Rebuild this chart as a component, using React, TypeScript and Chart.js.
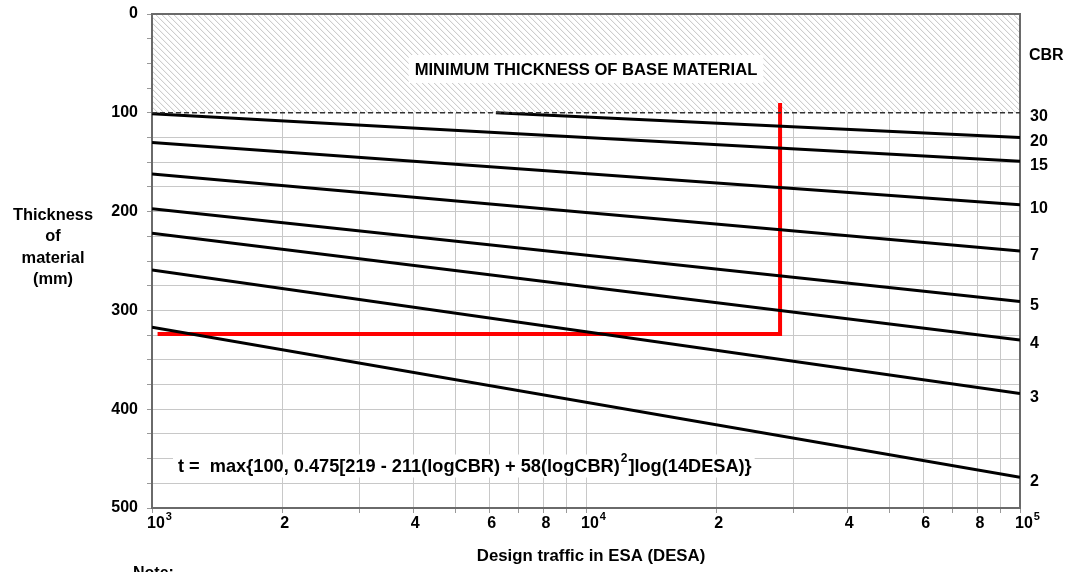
import React, { useEffect, useRef } from 'react';
import { Chart, registerables } from 'chart.js';

Chart.register(...registerables);

// ---- Data ----
const LINE_X = [1000, 100000]; // DESA at both ends of each design line
const CBR_2 = [317, 469];
const CBR_3 = [259, 384];
const CBR_4 = [222, 330];
const CBR_5 = [197, 291];
const CBR_7 = [162, 240];
const CBR_10 = [130, 193];
const CBR_15 = [101, 149];
const CBR_20_X = [6200, 100000];
const CBR_20 = [100, 125];
const CBR_30 = [100, 100];
const CBR_NAMES = ['30', '20', '15', '10', '7', '5', '4', '3', '2'];

const EXAMPLE_X = [1030, 28000, 28000];
const EXAMPLE_T = [324, 324, 90];

const MIN_THICKNESS = 100;
const Y_MIN = 0;
const Y_MAX = 500;
const Y_GRID_STEP = 25;
const Y_LABEL_STEP = 100;

const X_MIN = 1000;
const X_MAX = 100000;
const X_GRID = [1000, 2000, 3000, 4000, 5000, 6000, 7000, 8000, 9000, 10000, 20000, 30000, 40000, 50000, 60000, 70000, 80000, 90000, 100000];
const X_TICKS = [1000, 2000, 4000, 6000, 8000, 10000, 20000, 40000, 60000, 80000, 100000];
const X_TICK_TEXT = ['10^3', '2', '4', '6', '8', '10^4', '2', '4', '6', '8', '10^5'];

const TITLE_TEXT = 'MINIMUM THICKNESS OF BASE MATERIAL';
const FORMULA_A = 't =  max{100, 0.475[219 - 211(logCBR) + 58(logCBR)';
const FORMULA_SUP = '2';
const FORMULA_B = ']log(14DESA)}';
const Y_TITLE = ['Thickness', 'of', 'material', '(mm)'];
const X_TITLE = 'Design traffic in ESA (DESA)';
const NOTE_TEXT = 'Note:';
const RIGHT_TITLE = 'CBR';

const FONT_FAMILY = '"Liberation Sans", Arial, Helvetica, sans-serif';
const boldFont = (px: number) => `bold ${px}px ${FONT_FAMILY}`;

const pts = (xs: number[], ys: number[]) => xs.map((x, i) => ({ x, y: ys[i] }));

const annotationPlugin = {
  id: 'chartDecor',
  beforeDatasetsDraw(chart: any) {
    const { ctx, chartArea, scales } = chart;
    const { left, right, top, bottom } = chartArea;
    const y = scales.y;
    const yTop = y.getPixelForValue(Y_MIN);
    const yMin = y.getPixelForValue(MIN_THICKNESS);
    const h = yMin - yTop;
    ctx.save();
    // hatched "minimum thickness" zone
    ctx.fillStyle = '#ffffff';
    ctx.fillRect(left, yTop, right - left, h);
    ctx.beginPath();
    ctx.rect(left, yTop, right - left, h);
    ctx.clip();
    ctx.strokeStyle = '#c2c2c2';
    ctx.lineWidth = 1;
    ctx.beginPath();
    for (let s = left - h; s < right + 6; s += 6) {
      ctx.moveTo(s, yTop);
      ctx.lineTo(s + h, yMin);
    }
    ctx.stroke();
    ctx.restore();

    // title box
    ctx.save();
    const cx = (left + right) / 2;
    ctx.font = boldFont(16.6);
    const tw = ctx.measureText(TITLE_TEXT).width;
    ctx.fillStyle = '#ffffff';
    ctx.fillRect(cx - tw / 2 - 6, yTop + 41, tw + 12, 28);
    ctx.fillStyle = '#000';
    ctx.textAlign = 'center';
    ctx.textBaseline = 'middle';
    ctx.fillText(TITLE_TEXT, cx, yTop + 56);
    ctx.restore();

    // plot border
    ctx.save();
    ctx.strokeStyle = '#6a6a6a';
    ctx.lineWidth = 2;
    ctx.strokeRect(left, top, right - left, bottom - top);
    ctx.restore();
  },
  afterDatasetsDraw(chart: any) {
    const { ctx, chartArea, scales } = chart;
    const { left, right, bottom } = chartArea;
    const x = scales.x;
    const y = scales.y;
    ctx.save();
    ctx.fillStyle = '#000';

    // formula with white background
    const fs = 18.2;
    ctx.font = boldFont(fs);
    const fx = left + 26;
    const fy = y.getPixelForValue(458);
    const wA = ctx.measureText(FORMULA_A).width;
    const wB = ctx.measureText(FORMULA_B).width;
    ctx.font = boldFont(12);
    const wS = ctx.measureText(FORMULA_SUP).width;
    ctx.fillStyle = '#ffffff';
    ctx.fillRect(fx - 5, fy - 12, wA + wS + wB + 10, 23);
    ctx.fillStyle = '#000';
    ctx.textBaseline = 'middle';
    ctx.textAlign = 'left';
    ctx.font = boldFont(fs);
    ctx.fillText(FORMULA_A, fx, fy);
    ctx.font = boldFont(12);
    ctx.fillText(FORMULA_SUP, fx + wA + 1, fy - 8);
    ctx.font = boldFont(fs);
    ctx.fillText(FORMULA_B, fx + wA + wS + 2, fy);

    // x tick labels
    const ly = bottom + 16;
    X_TICKS.forEach((v, i) => {
      const px = x.getPixelForValue(v);
      const t = X_TICK_TEXT[i];
      if (t.includes('^')) {
        const [base, exp] = t.split('^');
        ctx.font = boldFont(16);
        ctx.textAlign = 'left';
        const bw = ctx.measureText(base).width;
        ctx.fillText(base, px - 5, ly);
        ctx.font = boldFont(11);
        ctx.fillText(exp, px - 5 + bw + 1, ly - 7);
      } else {
        ctx.font = boldFont(16);
        ctx.textAlign = 'center';
        ctx.fillText(t, px + 2, ly);
      }
    });

    // CBR labels at right end of each line
    ctx.font = boldFont(16);
    ctx.textAlign = 'left';
    chart.data.datasets.forEach((ds: any) => {
      if (!ds.cbr) return;
      const last = ds.data[ds.data.length - 1];
      ctx.fillText(ds.cbr, right + 10, y.getPixelForValue(last.y) + 4);
    });
    ctx.fillText(RIGHT_TITLE, right + 9, y.getPixelForValue(Y_MIN) + 42);

    // y title
    ctx.textAlign = 'center';
    ctx.font = boldFont(16.4);
    Y_TITLE.forEach((line, i) => {
      ctx.fillText(line, 53, 215 + i * 21.5);
    });

    // x title
    ctx.font = boldFont(16.8);
    ctx.fillText(X_TITLE, (left + right) / 2 + 5, bottom + 48);

    // note (partly cut off by the bottom edge)
    ctx.font = boldFont(16);
    ctx.textAlign = 'left';
    ctx.textBaseline = 'top';
    ctx.fillText(NOTE_TEXT, 133, 566);
    ctx.restore();
  },
};

export default function App() {
  const ref = useRef<HTMLCanvasElement | null>(null);
  useEffect(() => {
    if (!ref.current) return;
    const black = (label: string, xs: number[], ys: number[]) => ({
      label: 'CBR ' + label,
      cbr: label,
      data: pts(xs, ys),
      borderColor: '#000000',
      borderWidth: 3,
      pointRadius: 0,
      tension: 0,
      fill: false,
    });
    const chart = new Chart(ref.current, {
      type: 'line',
      data: {
        datasets: [
          {
            label: 'CBR 30',
            cbr: CBR_NAMES[0],
            data: pts(LINE_X, CBR_30),
            borderColor: '#333333',
            borderWidth: 1.6,
            borderDash: [5, 3],
            pointRadius: 0,
            fill: false,
          } as any,
          black(CBR_NAMES[1], CBR_20_X, CBR_20),
          black(CBR_NAMES[2], LINE_X, CBR_15),
          black(CBR_NAMES[3], LINE_X, CBR_10),
          black(CBR_NAMES[4], LINE_X, CBR_7),
          black(CBR_NAMES[5], LINE_X, CBR_5),
          black(CBR_NAMES[6], LINE_X, CBR_4),
          black(CBR_NAMES[7], LINE_X, CBR_3),
          black(CBR_NAMES[8], LINE_X, CBR_2),
          {
            label: 'Example',
            data: pts(EXAMPLE_X, EXAMPLE_T),
            borderColor: '#ff0000',
            borderWidth: 4,
            pointRadius: 0,
            tension: 0,
            fill: false,
          },
        ],
      },
      options: {
        animation: false,
        responsive: true,
        maintainAspectRatio: false,
        layout: { padding: { top: 14, right: 48, bottom: 0, left: 0 } },
        plugins: { legend: { display: false }, tooltip: { enabled: false }, title: { display: false } },
        scales: {
          x: {
            type: 'logarithmic',
            min: X_MIN,
            max: X_MAX,
            afterBuildTicks: (s: any) => {
              s.ticks = X_GRID.map((v) => ({ value: v }));
            },
            afterFit: (s: any) => {
              s.height = 64;
              s.paddingLeft = 0;
              s.paddingRight = 0;
            },
            ticks: { display: false },
            grid: { color: '#c8c8c8', lineWidth: 1, tickLength: 5, tickColor: '#999' },
            border: { display: false },
          },
          y: {
            type: 'linear',
            reverse: true,
            min: Y_MIN,
            max: Y_MAX,
            afterFit: (s: any) => {
              s.width = 152;
              s.paddingTop = 4;
              s.paddingBottom = 4;
            },
            ticks: {
              stepSize: Y_GRID_STEP,
              autoSkip: false,
              padding: 9,
              color: '#000',
              font: { family: FONT_FAMILY, weight: 'bold', size: 16 },
              callback: (v: any) => (Number(v) % Y_LABEL_STEP === 0 ? String(v) : ''),
            },
            grid: { color: '#c8c8c8', lineWidth: 1, tickLength: 5, tickColor: '#999' },
            border: { display: false },
          },
        },
      } as any,
      plugins: [annotationPlugin],
    });
    return () => chart.destroy();
  }, []);
  return (
    <div style={{ position: 'absolute', left: 0, top: 0, width: 1068, height: 572, background: '#fff' }}>
      <canvas ref={ref} />
    </div>
  );
}
